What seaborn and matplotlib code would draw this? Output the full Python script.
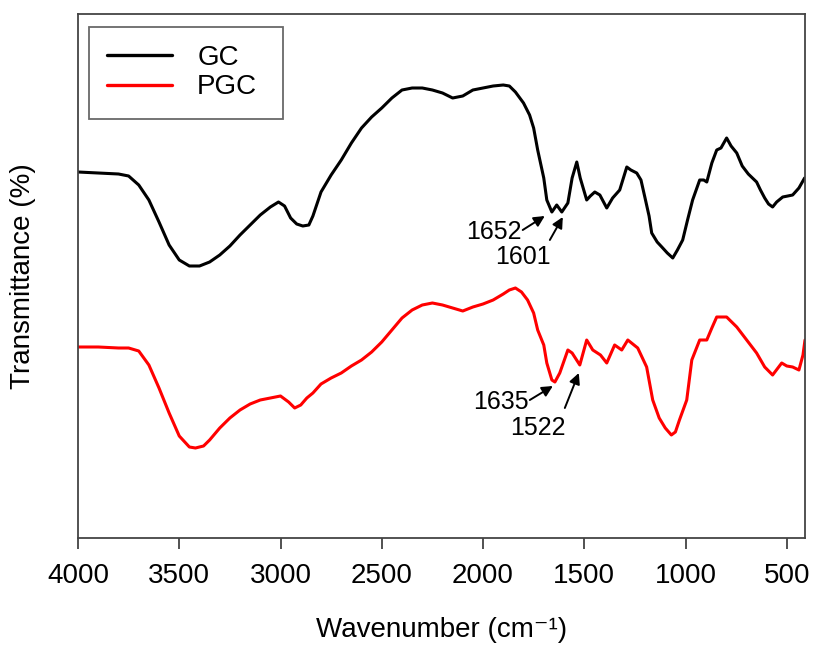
import matplotlib
matplotlib.use("Agg")
import matplotlib.pyplot as plt
import seaborn as sns
import pandas as pd

# ---- data (y in arbitrary transmittance units) ----
gc_wn = [4000, 3900, 3800, 3750, 3700, 3650, 3600, 3550, 3500, 3450, 3400, 3350, 3300, 3250,
         3200, 3150, 3100, 3050, 3010, 2980, 2950, 2920, 2890, 2860, 2840, 2800, 2750, 2700,
         2650, 2600, 2550, 2500, 2450, 2400, 2350, 2300, 2250, 2200, 2150, 2100, 2050, 2000,
         1950, 1900, 1870, 1840, 1800, 1770, 1750, 1730, 1700, 1685, 1660, 1636, 1611, 1581,
         1560, 1537, 1520, 1488, 1470, 1448, 1423, 1389, 1360, 1325, 1290, 1270, 1241, 1220,
         1201, 1180, 1167, 1140, 1117, 1090, 1063, 1040, 1014, 990, 965, 930, 910, 895, 870,
         846, 825, 797, 775, 747, 720, 690, 649, 630, 609, 590, 570, 550, 520, 495, 471, 440, 412]
gc_t = [366, 365, 364, 362, 353, 338, 316, 293, 278, 272, 272, 276, 283, 292,
        303, 313, 323, 331, 336, 332, 320, 314, 312, 313, 322, 346, 363, 378,
        395, 410, 421, 430, 440, 448, 450, 450, 448, 445, 440, 442, 448, 450,
        452, 453, 452, 446, 435, 423, 410, 388, 360, 338, 326, 333, 326, 335,
        360, 376, 360, 338, 342, 346, 343, 330, 340, 348, 371, 368, 365, 358,
        341, 322, 305, 296, 291, 285, 280, 288, 298, 318, 338, 358, 358, 356, 375,
        388, 390, 400, 392, 385, 372, 364, 356, 348, 340, 334, 331, 336, 341, 342, 343, 350, 360]

pgc_wn = [4000, 3900, 3800, 3750, 3700, 3650, 3600, 3550, 3500, 3450, 3420, 3380, 3350, 3300,
          3250, 3200, 3150, 3100, 3050, 3000, 2960, 2930, 2900, 2870, 2840, 2800, 2750, 2700,
          2650, 2600, 2550, 2500, 2450, 2400, 2350, 2300, 2250, 2200, 2150, 2100, 2050, 2000,
          1950, 1900, 1870, 1840, 1810, 1780, 1750, 1730, 1700, 1685, 1660, 1645, 1621, 1581,
          1560, 1522, 1488, 1458, 1420, 1389, 1350, 1315, 1285, 1236, 1192, 1162, 1130, 1100,
          1070, 1050, 1030, 994, 969, 930, 895, 870, 846, 797, 747, 698, 649, 609, 570, 525,
          500, 471, 440, 420, 410]
pgc_t = [191, 191, 190, 190, 187, 173, 150, 125, 102, 91, 90, 92, 98, 110,
         120, 128, 134, 138, 140, 142, 136, 130, 133, 140, 145, 154, 160, 165,
         172, 178, 186, 196, 208, 220, 228, 233, 235, 233, 230, 227, 231, 234,
         238, 244, 248, 250, 246, 238, 225, 208, 193, 175, 158, 156, 165, 188,
         185, 173, 198, 188, 183, 175, 193, 188, 198, 190, 171, 138, 120, 110,
         103, 106, 118, 138, 178, 198, 198, 210, 221, 221, 211, 198, 185, 171, 163, 175,
         172, 171, 168, 183, 198]

series_names = ["GC", "PGC"]
series_colors = ["#000000", "#ff0000"]
x_ticks = [4000, 3500, 3000, 2500, 2000, 1500, 1000, 500]

# annotations: label, text position, arrow tail, arrow head
ann_labels = ["1652", "1601", "1635", "1522"]
ann_text_xy = [(1945, 306), (1804, 281), (1910, 136), (1730, 110)]
ann_tail_xy = [(1804, 308), (1670, 298), (1769, 138), (1596, 130)]
ann_head_xy = [(1695, 322), (1606, 321), (1655, 152), (1527, 165)]

# ---- plotting ----
sns.set_theme(style="white")
plt.rcParams["font.family"] = ["Liberation Sans", "DejaVu Sans"]
plt.rcParams["text.color"] = "black"
plt.rcParams["axes.labelcolor"] = "black"
plt.rcParams["xtick.color"] = "black"

df = pd.concat([
    pd.DataFrame({"wn": gc_wn, "T": gc_t, "sample": "GC"}),
    pd.DataFrame({"wn": pgc_wn, "T": pgc_t, "sample": "PGC"}),
])

fig = plt.figure(figsize=(8.16, 6.48), dpi=100)
ax = fig.add_axes([78 / 816, 1 - 538 / 648, (805 - 78) / 816, (538 - 14) / 648])

sns.lineplot(data=df, x="wn", y="T", hue="sample", hue_order=series_names,
             palette=dict(zip(series_names, series_colors)), estimator=None,
             sort=False, linewidth=2.2, ax=ax)

ax.set_xlim(4000, 410)
ax.set_ylim(0, 524)
ax.set_xticks(x_ticks)
ax.set_xticklabels([str(t) for t in x_ticks])
ax.set_yticks([])
ax.tick_params(axis="x", direction="out", length=8, width=1.2, color="#333333",
               labelcolor="black", labelsize=20, pad=10, bottom=True)
ax.set_xlabel("Wavenumber (cm\u207b\u00b9)", fontsize=20, labelpad=20)
ax.set_ylabel("Transmittance (%)", fontsize=20, labelpad=30)
for s in ax.spines.values():
    s.set_color("#444444")
    s.set_linewidth(1.3)

leg = ax.legend(loc="upper left", bbox_to_anchor=(0.015, 0.975, (283 - 89) / 727, 0),
                mode="expand", fontsize=20,
                frameon=True, fancybox=False, handlelength=2.35, handletextpad=0.9,
                labelspacing=0.12, borderpad=0.65, borderaxespad=0)
leg.get_frame().set_edgecolor("#444444")
leg.get_frame().set_linewidth(1.3)
for line in leg.get_lines():
    line.set_linewidth(2.4)

for lab, txy, tail, head in zip(ann_labels, ann_text_xy, ann_tail_xy, ann_head_xy):
    ax.text(txy[0], txy[1], lab, fontsize=18, ha="center", va="center", color="black")
    ax.annotate("", xy=head, xytext=tail,
                arrowprops=dict(arrowstyle="-|>", color="black", lw=1.4,
                                mutation_scale=16, shrinkA=0, shrinkB=0))

fig.savefig("out.png", dpi=100)
